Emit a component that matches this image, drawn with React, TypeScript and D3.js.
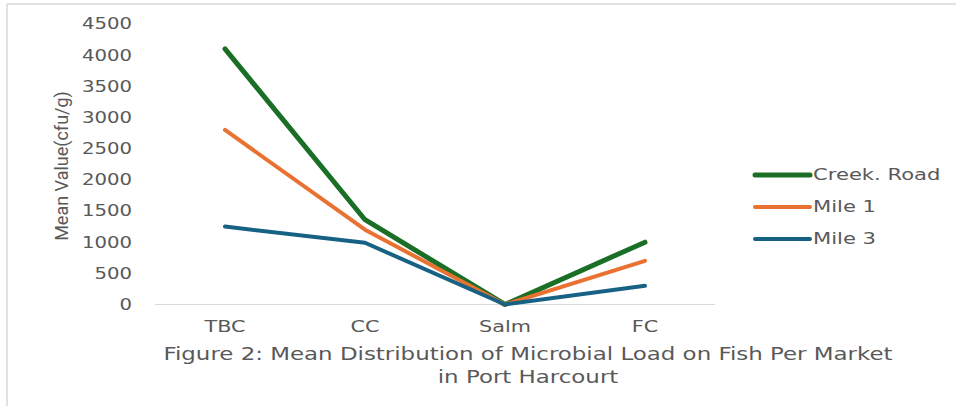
import React from "react";
import * as d3 from "d3";

const categories = ["TBC", "CC", "Salm", "FC"];
const seriesNames = ["Creek. Road", "Mile 1", "Mile 3"];
const creekRoad = [4100, 1360, 0, 1000];
const mile1 = [2800, 1200, 0, 700];
const mile3 = [1250, 990, 0, 300];
const yTicks = [0, 500, 1000, 1500, 2000, 2500, 3000, 3500, 4000, 4500];
const colors = ["#1B6E26", "#E97132", "#176185"];
const widths = [5, 4, 4];
const yTitle = "Mean Value(cfu/g)";
const caption1 = "Figure 2: Mean Distribution of Microbial Load on Fish Per Market";
const caption2 = "in Port Harcourt";

const FONT = "'DejaVu Sans', 'Liberation Sans', sans-serif";
const GREY = "#595959";

function WideText(props: {
  x: number;
  y: number;
  anchor?: "start" | "middle" | "end";
  size: number;
  sx: number;
  children: React.ReactNode;
}) {
  const { x, y, anchor = "start", size, sx, children } = props;
  return (
    <g transform={`translate(${x},${y}) scale(${sx},1)`}>
      <text
        x={0}
        y={0}
        dy="0.35em"
        textAnchor={anchor}
        fontFamily={FONT}
        fontSize={size}
        fill={GREY}
      >
        {children}
      </text>
    </g>
  );
}

export default function App() {
  const W = 956, H = 406;
  const x = d3.scaleBand<string>().domain(categories).range([155, 715]);
  const y = d3.scaleLinear().domain([0, 4500]).range([304.5, 24]);
  const series = [creekRoad, mile1, mile3];
  const line = d3
    .line<number>()
    .x((_, i) => (x(categories[i]) as number) + x.bandwidth() / 2)
    .y((d) => y(d));
  return (
    <svg
      width={W}
      height={H}
      style={{ position: "absolute", left: 0, top: 0, background: "#fff" }}
    >
      <rect x={0} y={0} width={W} height={H} fill="#fff" />
      <line x1={7} y1={4} x2={W} y2={4} stroke="#d9d9d9" strokeWidth={1.5} />
      <line x1={7} y1={4} x2={7} y2={H} stroke="#d9d9d9" strokeWidth={1.5} />
      {yTicks.map((t) => (
        <WideText key={t} x={132} y={y(t)} anchor="end" size={15.5} sx={1.27}>
          {t}
        </WideText>
      ))}
      <line x1={155} x2={715} y1={y(0)} y2={y(0)} stroke="#d9d9d9" strokeWidth={1.2} />
      {categories.map((c) => (
        <WideText
          key={c}
          x={(x(c) as number) + x.bandwidth() / 2}
          y={326}
          anchor="middle"
          size={16}
          sx={1.3}
        >
          {c}
        </WideText>
      ))}
      <text
        transform="translate(62,166) rotate(-90)"
        textAnchor="middle"
        dy="0.35em"
        fontFamily="'Liberation Sans Narrow', 'Roboto', sans-serif"
        fontSize={18}
        fill={GREY}
      >
        {yTitle}
      </text>
      {series.map((s, i) => (
        <path
          key={i}
          d={line(s) || ""}
          fill="none"
          stroke={colors[i]}
          strokeWidth={widths[i]}
          strokeLinecap="round"
          strokeLinejoin="round"
        />
      ))}
      {seriesNames.map((n, i) => (
        <g key={n}>
          <line
            x1={755}
            x2={810}
            y1={175 + i * 32}
            y2={175 + i * 32}
            stroke={colors[i]}
            strokeWidth={widths[i]}
            strokeLinecap="round"
          />
          <WideText x={813} y={175 + i * 32} size={15.5} sx={1.36}>
            {n}
          </WideText>
        </g>
      ))}
      <WideText x={528} y={354} anchor="middle" size={17.5} sx={1.31}>
        {caption1}
      </WideText>
      <WideText x={528} y={377} anchor="middle" size={17.5} sx={1.31}>
        {caption2}
      </WideText>
    </svg>
  );
}
